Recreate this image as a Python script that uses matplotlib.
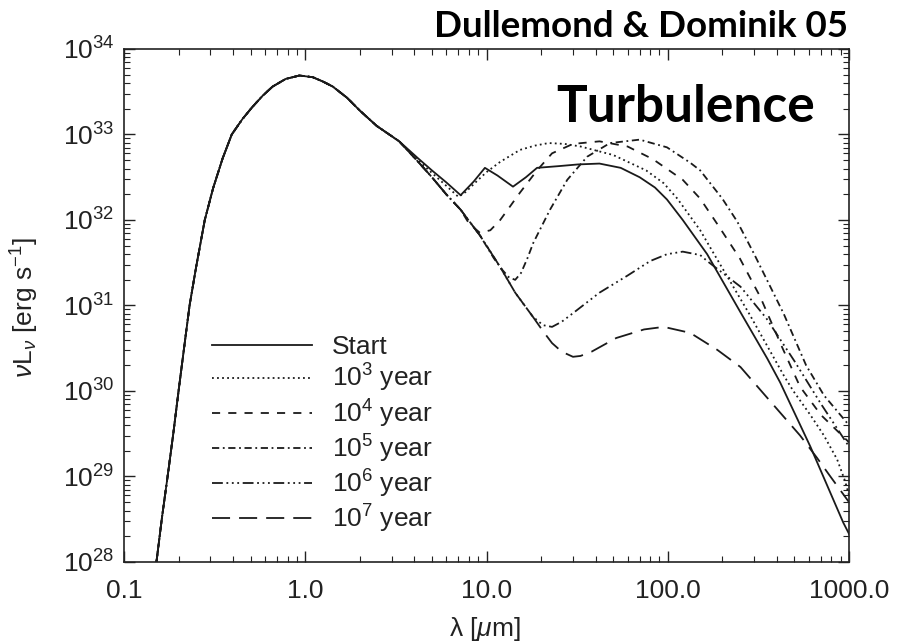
import numpy as np
import matplotlib
matplotlib.use('Agg')
import matplotlib.pyplot as plt

plt.rcParams['font.family'] = ['Liberation Sans', 'DejaVu Sans']
plt.rcParams['mathtext.fontset'] = 'custom'
plt.rcParams['mathtext.rm'] = 'Liberation Sans'
plt.rcParams['mathtext.it'] = 'Liberation Sans:italic'

# shared short-wavelength side (lambda in micron, log10 nuL_nu in erg/s)
wien_lam = [0.151, 0.162, 0.174, 0.187, 0.20, 0.215, 0.23, 0.25, 0.279, 0.31, 0.35, 0.393, 0.45, 0.51,
            0.58, 0.66, 0.78, 0.93, 1.1, 1.25, 1.42, 1.7, 2.0, 2.48, 3.3]
wien_logL = [28.0, 28.52, 29.0, 29.5, 30.0, 30.52, 31.0, 31.45, 32.0, 32.37, 32.72, 33.0, 33.18, 33.32,
             33.45, 33.56, 33.65, 33.69, 33.67, 33.62, 33.56, 33.43, 33.28, 33.10, 32.92]

start_lam = [4.2, 5.0, 6.0, 7.2, 8.5, 9.8, 11.5, 14.0, 16.5, 19, 25, 32, 42, 55, 70, 85, 99, 121, 165, 252,
             354, 417, 612, 930, 1000]
start_logL = [32.72, 32.58, 32.44, 32.29, 32.45, 32.61, 32.52, 32.39, 32.50, 32.61, 32.63, 32.65, 32.66, 32.61,
              32.50, 32.38, 32.24, 32.0, 31.60, 30.92, 30.38, 30.10, 29.35, 28.46, 28.33]

y3_lam = [4.2, 5.0, 6.0, 7.0, 7.7, 8.8, 10.0, 11.9, 15.3, 18.5, 22, 27, 33, 50, 76, 95, 113, 151, 178, 282,
          437, 493, 612, 727, 860, 950, 1000]
y3_logL = [32.70, 32.55, 32.40, 32.27, 32.33, 32.45, 32.56, 32.68, 32.82, 32.87, 32.90, 32.89, 32.86, 32.76,
           32.58, 32.43, 32.25, 31.88, 31.62, 30.90, 30.18, 30.0, 29.72, 29.48, 29.2, 28.95, 28.78]

y4_lam = [4.2, 5.0, 6.0, 7.2, 8.0, 9.2, 10.5, 11.9, 13.5, 15.3, 19, 23, 30, 42, 60, 83, 121, 151, 188, 250,
          324, 430, 537, 700, 1000]
y4_logL = [32.68, 32.50, 32.30, 32.12, 31.96, 31.85, 31.88, 32.0, 32.16, 32.32, 32.58, 32.78, 32.89, 32.92,
           32.86, 32.71, 32.47, 32.25, 31.95, 31.55, 31.1, 30.5, 30.05, 29.72, 29.4]

y5_lam = [4.2, 5.0, 6.0, 7.2, 9.2, 11.0, 12.3, 13.3, 14.4, 15.5, 16.8, 18.1, 22.4, 27.9, 35.9, 48, 70, 99,
          133, 151, 200, 242, 300, 437, 580, 727, 1000]
y5_logL = [32.68, 32.50, 32.30, 32.12, 31.82, 31.55, 31.41, 31.33, 31.30, 31.38, 31.55, 31.73, 32.12, 32.47,
           32.74, 32.90, 32.94, 32.85, 32.67, 32.58, 32.25, 31.98, 31.6, 30.9, 30.3, 29.95, 29.6]

y6_lam = [4.2, 5.0, 6.0, 7.2, 9.2, 11.9, 14.4, 18.0, 20.5, 23, 26, 30, 42, 60, 80, 99, 121, 151, 165, 252,
          350, 500, 700, 1000]
y6_logL = [32.68, 32.50, 32.30, 32.12, 31.82, 31.45, 31.15, 30.87, 30.77, 30.75, 30.81, 30.91, 31.15, 31.35,
           31.52, 31.60, 31.63, 31.59, 31.52, 31.22, 30.85, 30.35, 29.85, 29.35]

y7_lam = [4.2, 5.0, 6.0, 7.2, 9.2, 11.9, 14.4, 18.0, 20.5, 23, 26, 30, 33, 38, 52, 74, 95, 133, 188, 252,
          354, 537, 665, 777, 1000]
y7_logL = [32.68, 32.50, 32.30, 32.12, 31.82, 31.45, 31.15, 30.87, 30.70, 30.56, 30.46, 30.40, 30.41, 30.46,
           30.62, 30.72, 30.75, 30.68, 30.48, 30.28, 29.92, 29.48, 29.22, 29.02, 28.70]

labels = ['Start', r'$\mathregular{10^3}$ year', r'$\mathregular{10^4}$ year',
          r'$\mathregular{10^5}$ year', r'$\mathregular{10^6}$ year', r'$\mathregular{10^7}$ year']
styles = ['-', (0, (1, 1.8)), (0, (4.5, 4.5)), (0, (4, 2, 1, 2)),
          (0, (6, 2, 1, 2, 1, 2, 1, 2)), (0, (10, 5))]

series = [(start_lam, start_logL), (y3_lam, y3_logL), (y4_lam, y4_logL),
          (y5_lam, y5_logL), (y6_lam, y6_logL), (y7_lam, y7_logL)]

fig = plt.figure(figsize=(8.97, 6.42), dpi=100)
ax = fig.add_axes([124/897, 80/642, 725/897, 513/642])

for (lam, logL), lab, ls in zip(series, labels, styles):
    x = np.array(wien_lam + lam)
    y = 10.0**np.array(wien_logL + logL)
    ax.plot(x, y, color='#1a1a1a', lw=1.3, linestyle=ls, label=lab)

ax.set_xscale('log')
ax.set_yscale('log')
ax.set_xlim(0.1, 1000)
ax.set_ylim(1e28, 1e34)
ax.set_xticks([0.1, 1, 10, 100, 1000], labels=['0.1', '1.0', '10.0', '100.0', '1000.0'])
ax.set_yticks([10.0**k for k in range(28, 35)],
              labels=[r'$\mathregular{10^{%d}}$' % k for k in range(28, 35)])
ax.tick_params(which='both', direction='in', top=True, right=True, colors='#222222',
               labelcolor='#222222', labelsize=19)
ax.tick_params(which='major', length=8, width=1.0)
ax.tick_params(which='minor', length=4, width=0.8)
ax.tick_params(axis='x', pad=12)
ax.tick_params(axis='y', pad=7)
for s in ax.spines.values():
    s.set_linewidth(1.2)
    s.set_color('#222222')

leg = ax.legend(loc='lower left', bbox_to_anchor=(0.121, 0.053), frameon=False,
                fontsize=19, handlelength=3.8, handletextpad=0.74, labelspacing=0.11,
                borderpad=0, borderaxespad=0)
for t in leg.get_texts():
    t.set_color('#222222')

fig.text(485/897, 1 - 629/642, r'λ [$\mu$m]', ha='center', va='center', fontsize=19, color='#222222')
fig.text(25/897, 1 - 308/642, r'$\nu$L$_\nu$ [erg s$^{-1}$]', ha='center', va='center',
         rotation=90, fontsize=19, color='#222222')

fig.text(848/897, 1 - 37/642, 'Dullemond & Dominik 05', ha='right', va='baseline',
         family='Lato', fontweight='bold', fontsize=26.5)
fig.text(815/897, 1 - 122/642, 'Turbulence', ha='right', va='baseline',
         family='Lato', fontweight='bold', fontsize=37)

fig.savefig('out.png', dpi=100)
